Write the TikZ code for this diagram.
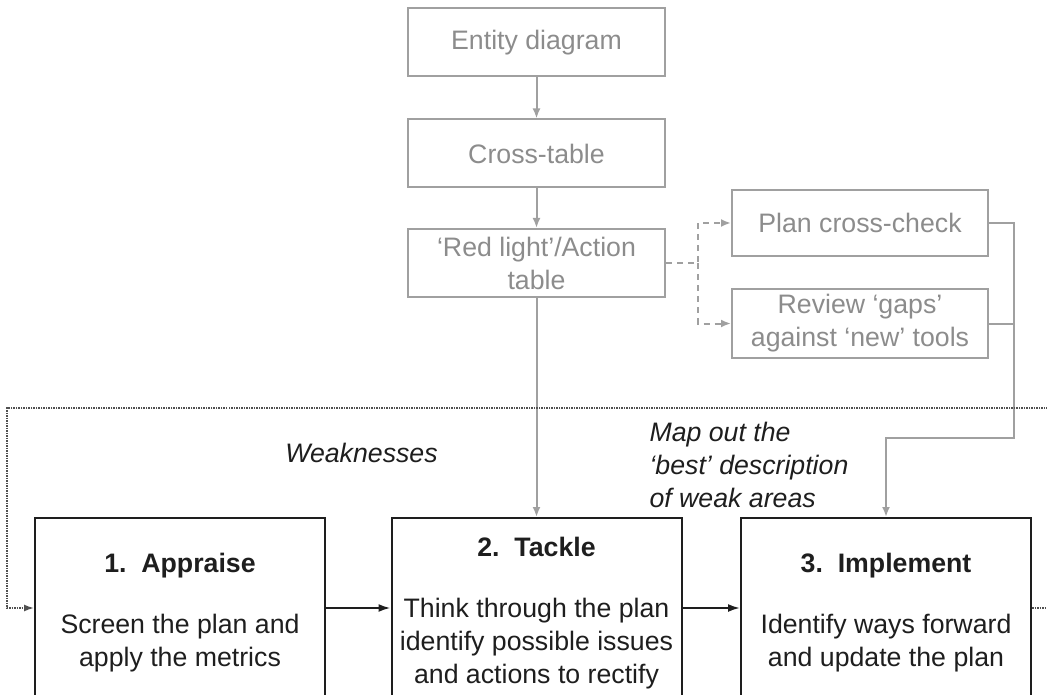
\documentclass[tikz,border=0pt]{standalone}
\usepackage{fontspec}
\setmainfont{Liberation Sans}
\usetikzlibrary{arrows.meta,calc,positioning}
\definecolor{boxgray}{HTML}{A0A0A0}
\definecolor{textgray}{HTML}{8C8C8C}
\definecolor{inkblack}{HTML}{1E1E1E}
\definecolor{loopgray}{HTML}{505050}
\newcommand{\bodysize}{\fontsize{26.7}{33}\selectfont}
\newcommand{\titlestrut}{\rule{0pt}{29pt}}
\tikzset{
  toolbox/.style={draw=boxgray,line width=2pt,text=textgray,minimum width=257pt,minimum height=68pt,align=center,inner sep=2pt},
  stagebox/.style={draw=inkblack,line width=2pt,text=inkblack,minimum width=290pt,minimum height=180pt,align=center,inner sep=2pt},
  grayarrow/.style={-{Latex[length=10pt,width=8pt]},line width=2pt,boxgray},
  grayline/.style={line width=2pt,boxgray},
  graydash/.style={-{Latex[length=10pt,width=8pt]},line width=2pt,boxgray,dash pattern=on 6pt off 5pt},
  stagearrow/.style={-{Latex[length=12pt,width=8pt]},line width=2pt,inkblack},
  loopline/.style={line width=1.5pt,loopgray,densely dotted},
  note/.style={font=\bodysize\itshape,text=inkblack,align=left}
}

\begin{document}
\begin{tikzpicture}[x=1pt,y=-1pt,font=\bodysize]
  \clip (0,0) rectangle (1047,695);
  % tool chain
  \node[toolbox] (entity) at (536.5,42.5) {Entity diagram};
  \node[toolbox] (cross) at (536.5,153.5) {Cross-table};
  \node[toolbox] (red) at (536.5,263) {‘Red light’/Action\\table};
  \node[toolbox,minimum width=256pt,minimum height=66pt] (plan) at (860,223) {Plan cross-check};
  \node[toolbox,minimum width=256pt,minimum height=69pt] (review) at (860,323.5) {Review ‘gaps’\\against ‘new’ tools};
  \foreach \a/\b in {entity/cross,cross/red}{\draw[grayarrow] (\a) -- (\b);}
  \coordinate (split) at (698,263);
  \draw[graydash] (red.east) -- (split) |- (plan.west);
  \draw[graydash] (split) |- (review.west);
  % stages
  \node[stagebox] (appraise) at (180,608) {\titlestrut\textbf{1.\ \ Appraise}\\[28pt]Screen the plan and\\apply the metrics};
  \node[stagebox] (tackle) at (536.5,608) {\titlestrut\textbf{2.\ \ Tackle}\\[28pt]Think through the plan\\identify possible issues\\and actions to rectify};
  \node[stagebox] (implement) at (886,608) {\titlestrut\textbf{3.\ \ Implement}\\[28pt]Identify ways forward\\and update the plan};
  \draw[stagearrow] (appraise) -- (tackle);
  \draw[stagearrow] (tackle) -- (implement);
  \draw[grayarrow] (red.south) -- (tackle.north);
  \coordinate (merge) at (1014,438);
  \draw[grayline] (review.east) -- (review.east -| merge);
  \draw[grayarrow] (plan.east) -| (merge) -| (implement.north);
  % feedback loop
  \coordinate (edge) at (1050,408);
  \coordinate (corner) at (7,408);
  \draw[loopline] (implement.east) -- (implement.east -| edge);
  \draw[loopline,-{Latex[length=10pt,width=7pt]}] (edge) -- (corner) |- (appraise.west);
  \node[note] (weak) at (361.5,453) {Weaknesses};
  \node[note,anchor=west] (mapout) at (646,465) {Map out the\\‘best’ description\\of weak areas};
\end{tikzpicture}
\end{document}
